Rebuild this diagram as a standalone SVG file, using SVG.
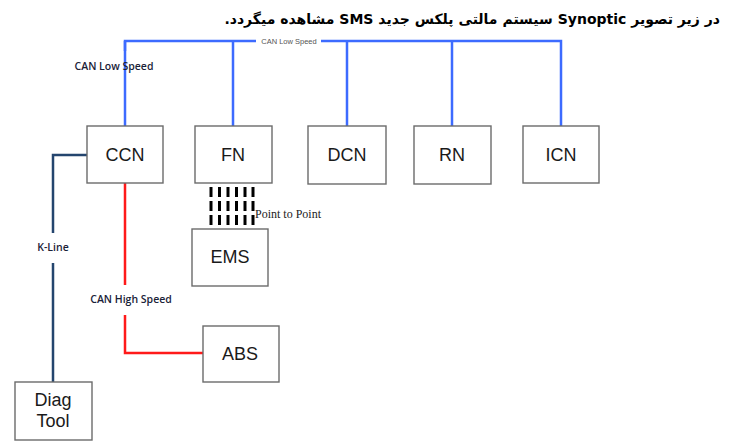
<svg xmlns="http://www.w3.org/2000/svg" width="736" height="444" viewBox="0 0 736 444">
<style>
.box{fill:#fff;stroke:#6b6b6b;stroke-width:1.4}
.nt{font-family:"Liberation Sans",Arial,sans-serif;font-size:18px;fill:#1a1a1a;text-anchor:middle}
.lbl{font-family:"Open Sans","Liberation Sans",sans-serif;font-weight:600;font-size:10.5px;fill:#1a2238;text-anchor:middle}
.blue{fill:none;stroke:#3d6bff;stroke-width:2.5}
.red{fill:none;stroke:#ff1a1a;stroke-width:2.5}
.kl{fill:none;stroke:#24456e;stroke-width:2.5}
.dash{stroke:#000;stroke-width:3;stroke-dasharray:10 4}
</style>
<rect width="736" height="444" fill="#fff"/>
<text x="720" y="24" direction="rtl" unicode-bidi="embed" text-anchor="start" font-family="'DejaVu Sans',sans-serif" font-weight="bold" font-size="14" fill="#000">در زیر تصویر Synoptic سیستم مالتی پلکس جدید SMS مشاهده میگردد.</text>
<g id="connectors">
<path class="blue" d="M125,86 V41 H256 M321,41 H561 V126"/>
<path class="blue" d="M125,51 V41"/>
<path class="blue" d="M125,86 V126"/>
<path class="blue" d="M233,41 V126 M347,41 V126 M452,41 V126"/>
<text x="289" y="44" font-family="'Liberation Sans',Arial,sans-serif" font-size="7.5" fill="#555" text-anchor="middle">CAN Low Speed</text>
<path class="red" d="M125,183 V285 M125,315 V353 H203"/>
<path class="kl" d="M87,155 H53 V233 M53,263 V382"/>
<g>
<line class="dash" x1="211" y1="187" x2="211" y2="228"/>
<line class="dash" x1="219.5" y1="187" x2="219.5" y2="228"/>
<line class="dash" x1="228" y1="187" x2="228" y2="228"/>
<line class="dash" x1="236.5" y1="187" x2="236.5" y2="228"/>
<line class="dash" x1="245" y1="187" x2="245" y2="228"/>
<line class="dash" x1="253" y1="187" x2="253" y2="228"/>
</g>
<text x="255" y="218" font-family="'Liberation Serif','Times New Roman',serif" font-size="12" fill="#222">Point to Point</text>
<text class="lbl" x="114" y="70">CAN Low Speed</text>
<text class="lbl" x="53" y="251">K-Line</text>
<text class="lbl" x="131" y="303">CAN High Speed</text>
</g>
<g id="CCN"><rect class="box" x="87" y="126" width="76" height="57"/><text class="nt" x="125" y="161">CCN</text></g>
<g id="FN"><rect class="box" x="195" y="126" width="77" height="57"/><text class="nt" x="233" y="161">FN</text></g>
<g id="DCN"><rect class="box" x="308" y="126" width="78" height="58"/><text class="nt" x="347" y="161">DCN</text></g>
<g id="RN"><rect class="box" x="414" y="126" width="77" height="58"/><text class="nt" x="452" y="161">RN</text></g>
<g id="ICN"><rect class="box" x="523" y="126" width="76" height="57"/><text class="nt" x="561" y="161">ICN</text></g>
<g id="EMS"><rect class="box" x="192" y="229" width="76" height="57"/><text class="nt" x="230" y="263">EMS</text></g>
<g id="ABS"><rect class="box" x="203" y="326" width="76" height="56"/><text class="nt" x="240" y="360">ABS</text></g>
<g id="DiagTool"><rect class="box" x="15" y="382" width="77" height="58"/><text class="nt" x="53" y="406">Diag</text><text class="nt" x="53" y="427">Tool</text></g>
</svg>
